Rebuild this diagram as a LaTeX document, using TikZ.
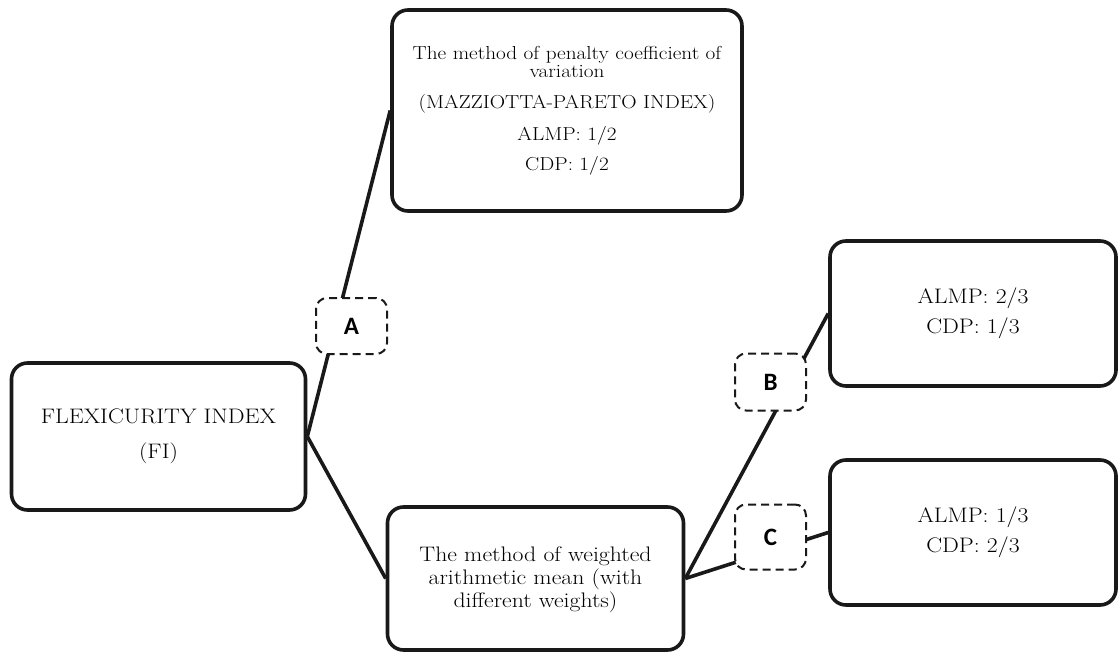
\documentclass[tikz,border=0pt]{standalone}
\usepackage{fontspec}
\newfontfamily\labelfont{Carlito}
\newfontfamily\widefont{Latin Modern Roman}[FakeStretch=1.13]
\begin{document}
\begin{tikzpicture}[x=1pt,y=-1pt,
  box/.style={draw=black!90, line width=3.6pt, rounded corners=16pt, fill=white,
    inner sep=0pt, align=center, font=\widefont\fontsize{21}{23}\selectfont},
  lab/.style={draw=black!90, line width=2pt, dash pattern=on 8pt off 5pt,
    rounded corners=11pt, fill=white, inner sep=0pt, minimum width=71pt,
    font=\labelfont\bfseries\fontsize{25}{28}\selectfont},
  link/.style={draw=black!90, line width=3.6pt}]
\useasboundingbox (0,0) rectangle (1118,652);
\node[box, minimum width=350pt, minimum height=201pt, font=\widefont\fontsize{18.8}{18.5}\selectfont]
  (pen) at (567,110.5) {The method of penalty coefficient of\\ variation\\[12pt]
  (MAZZIOTTA-PARETO INDEX)\\[12pt] ALMP: 1/2\\[10pt] CDP: 1/2};
\node[box, minimum width=294pt, minimum height=147pt] (fi) at (158.5,436.5)
  {FLEXICURITY INDEX\\[12pt] (FI)\rule[-4pt]{0pt}{1pt}};
\node[box, minimum width=296pt, minimum height=143pt]
  (wm) at (535.5,578.5) {\rule{0pt}{18pt}The method of weighted\\ arithmetic mean (with\\ different weights)};
\node[box, minimum width=286pt, minimum height=145pt] (bt) at (973,313.5)
  {ALMP: 2/3\\[7pt] CDP: 1/3};
\node[box, minimum width=286pt, minimum height=145pt] (ct) at (973,532.5)
  {ALMP: 1/3\\[7pt] CDP: 2/3};
\draw[link] (fi.east) -- (pen.west);
\draw[link] (fi.east) -- (wm.west);
\draw[link] (wm.east) -- (bt.west);
\draw[link] (wm.east) -- (ct.west);
\node[lab, minimum height=56pt] (a) at (351.5,326) {A};
\node[lab, minimum height=57pt] (b) at (770.5,382) {B};
\node[lab, minimum height=65pt] (c) at (770.5,537) {C};
\end{tikzpicture}
\end{document}
